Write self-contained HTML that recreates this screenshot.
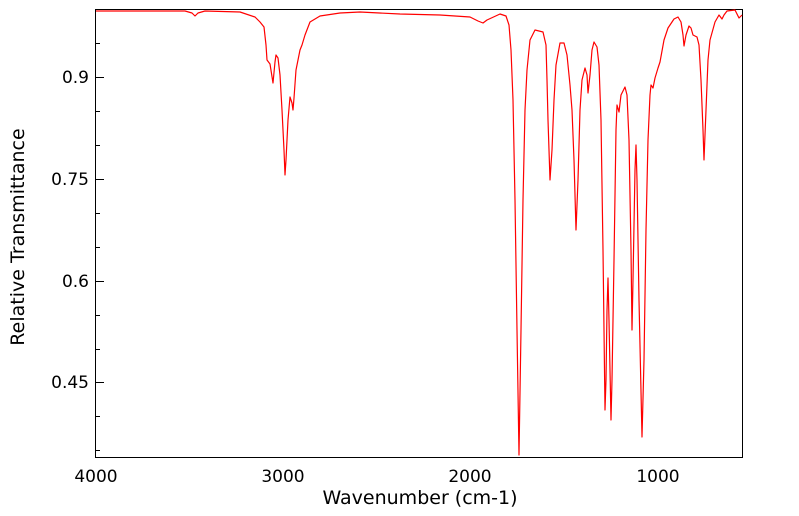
<!DOCTYPE html>
<html><head><meta charset="utf-8"><style>
html,body{margin:0;padding:0;background:#fff;}
svg{display:block;font-family:"DejaVu Sans","Liberation Sans",sans-serif;}
</style></head><body>
<svg width="799" height="516" viewBox="0 0 799 516" xmlns="http://www.w3.org/2000/svg">
<rect x="95.5" y="9.5" width="647" height="448" fill="none" stroke="#000" stroke-width="1"/>
<g stroke="#000" stroke-width="1">
<line x1="95" y1="77.5" x2="104" y2="77.5"/>
<line x1="95" y1="179.5" x2="104" y2="179.5"/>
<line x1="95" y1="281.5" x2="104" y2="281.5"/>
<line x1="95" y1="382.5" x2="104" y2="382.5"/>
<line x1="95" y1="43.5" x2="100" y2="43.5"/>
<line x1="95" y1="111.5" x2="100" y2="111.5"/>
<line x1="95" y1="145.5" x2="100" y2="145.5"/>
<line x1="95" y1="213.5" x2="100" y2="213.5"/>
<line x1="95" y1="247.5" x2="100" y2="247.5"/>
<line x1="95" y1="315.5" x2="100" y2="315.5"/>
<line x1="95" y1="349.5" x2="100" y2="349.5"/>
<line x1="95" y1="416.5" x2="100" y2="416.5"/>
<line x1="95" y1="450.5" x2="100" y2="450.5"/>
</g>
<g id="xt" stroke="#000" stroke-width="1"></g>
<g font-size="17" fill="#000" text-anchor="end">
<text x="89" y="83">0.9</text>
<text x="89" y="185">0.75</text>
<text x="89" y="287">0.6</text>
<text x="89" y="388">0.45</text>
</g>
<g font-size="17" fill="#000" text-anchor="middle">
<text x="96" y="482">4000</text>
<text x="283" y="482">3000</text>
<text x="470" y="482">2000</text>
<text x="658" y="482">1000</text>
</g>
<g font-size="19" fill="#000" text-anchor="middle">
<text x="420" y="504">Wavenumber (cm-1)</text>
<text transform="translate(24,237) rotate(-90)">Relative Transmittance</text>
</g>
<path fill="none" stroke="#f00" stroke-width="1.2" stroke-linejoin="round" d="
M96,11 L185,11 L192,13 L195,16 L198,13 L205,11 L240,12 L255,17 L260,22 L264,27 L266,45 L267,60 L270,64 L273,83 L275,62 L276,55 L278,58 L280,75 L282,110 L284,150 L285,175 L286,160 L288,120 L290,97 L292,103 L293,110 L294,98 L296,70 L298,60 L300,50 L302,45 L305,35 L310,22 L320,16 L340,13 L360,12 L400,14 L440,15 L470,17 L478,21 L483,23 L487,20 L500,14 L506,16 L509,25 L511,50 L513,100 L515,200 L517,330 L519,455 L521,330 L523,200 L525,110 L527,70 L530,40 L535,30 L543,32 L546,45 L547,80 L548,120 L550,180 L552,150 L554,100 L556,65 L560,43 L564,43 L567,55 L570,85 L572,110 L574,160 L576,230 L578,180 L580,110 L582,80 L585,68 L587,75 L588,93 L590,75 L592,50 L594,42 L597,47 L599,65 L601,120 L603,250 L605,410 L606,380 L607,310 L608,278 L609,320 L611,420 L612,380 L614,260 L616,130 L617,105 L619,112 L621,95 L625,87 L627,95 L629,140 L631,250 L632,330 L633,280 L635,170 L636,145 L637,180 L639,300 L642,437 L644,360 L646,230 L648,140 L650,95 L651,85 L653,88 L655,78 L658,68 L660,62 L664,40 L668,28 L674,19 L678,17 L681,22 L683,35 L684,46 L686,35 L689,26 L691,28 L693,35 L697,37 L699,45 L701,80 L703,130 L704,160 L706,110 L708,60 L710,40 L715,22 L719,15 L722,19 L724,15 L727,11 L735,10 L737,14 L739,18 L742,15"/>
<script>
var g=document.getElementById('xt'),s='';
for(var w=4000;w>=550;w-=100){var x=95+(4000-w)*0.1877;var L=(w%1000==0)?9:5;
s+='<line x1="'+x.toFixed(1)+'" y1="457" x2="'+x.toFixed(1)+'" y2="'+(457-L)+'"/>';}
g.innerHTML=s;
</script>
</svg>
</body></html>
